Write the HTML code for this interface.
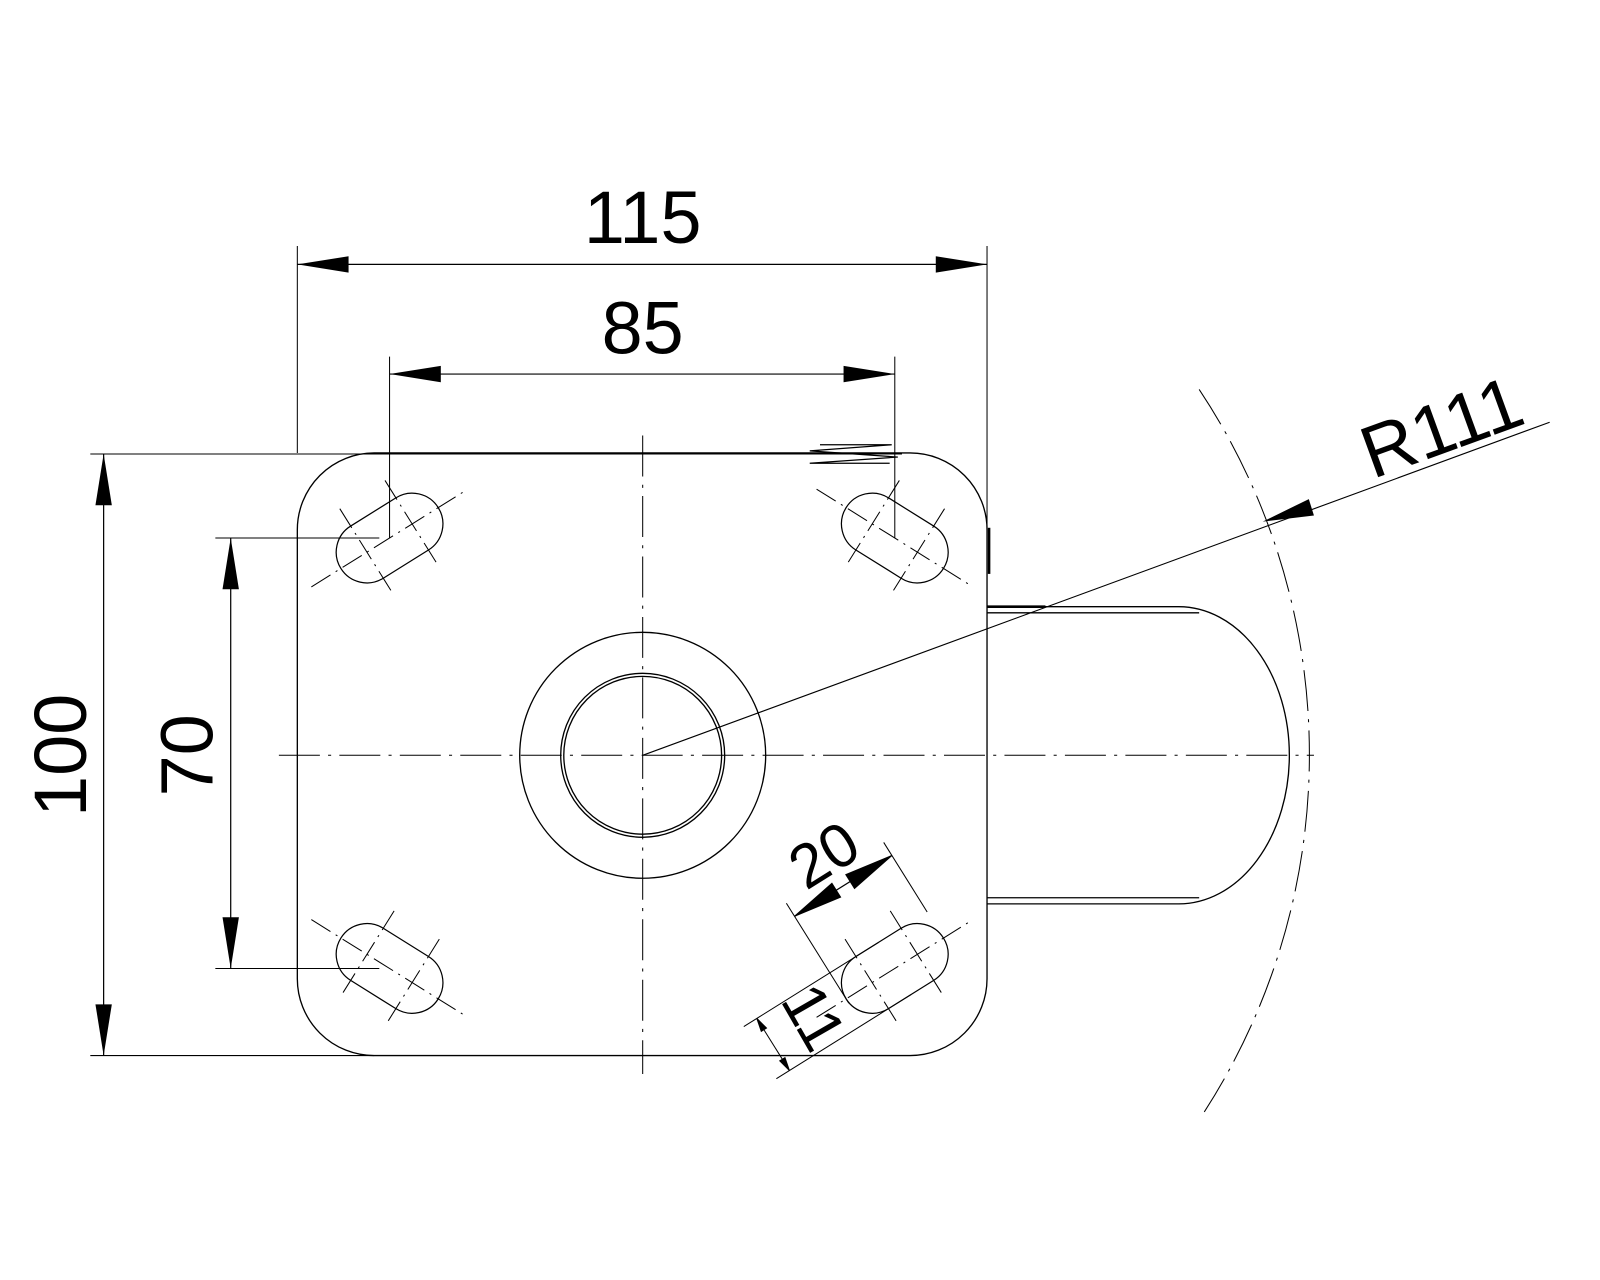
<!DOCTYPE html>
<html><head><style>html,body{margin:0;padding:0;background:#fff}svg{display:block}</style></head>
<body>
<svg width="1600" height="1280" viewBox="0 0 1561 1249" xmlns="http://www.w3.org/2000/svg" font-family="Liberation Sans, sans-serif">
<defs>
<g id="slot">
  <rect x="-56" y="-30" width="112" height="60" rx="30" ry="30" fill="none" stroke="#000" stroke-width="1.2"/>
  <line x1="-90" y1="0" x2="90" y2="0" stroke="#000" stroke-width="1" stroke-dasharray="22,6,2,6"/>
  <line x1="-26" y1="-50" x2="-26" y2="50" stroke="#000" stroke-width="1" stroke-dasharray="22,6,2,6"/>
  <line x1="26" y1="-50" x2="26" y2="50" stroke="#000" stroke-width="1" stroke-dasharray="22,6,2,6"/>
</g>
</defs>
<g fill="none" stroke="#000" stroke-width="1.3">
  <path d="M365,442 H888 A75,75 0 0 1 963,517 V955 A75,75 0 0 1 888,1030 H365 A75,75 0 0 1 290,955 V517 A75,75 0 0 1 365,442 Z"/>
  <line x1="965" y1="515" x2="965" y2="560" stroke-width="2.5"/>
  <circle cx="627" cy="737" r="120"/>
  <circle cx="627" cy="737" r="80"/>
  <circle cx="627" cy="737" r="77"/>
  <path d="M963,592 H1150 A108,145 0 0 1 1150,882 H963"/>
  <line x1="963" y1="598" x2="1170" y2="598"/>
  <line x1="963" y1="876" x2="1170" y2="876"/>
  <line x1="963" y1="592" x2="1020" y2="592" stroke-width="2.5"/>
  <line x1="272" y1="737" x2="1282" y2="737" stroke-width="1" stroke-dasharray="40,8,3,8"/>
  <line x1="627" y1="425" x2="627" y2="1048" stroke-width="1" stroke-dasharray="40,8,3,8"/>
  <path d="M1170,380 A644,644 0 0 1 1175,1085" stroke-width="1" stroke-dasharray="40,8,3,8"/>
  <line x1="627" y1="737" x2="1512" y2="412" stroke-width="1.1"/>
  <polyline points="800,434 870,434 790,440 876,446 790,452 868,452" stroke-width="1.2"/>
  <line x1="290" y1="240" x2="290" y2="442" stroke-width="1"/>
  <line x1="963" y1="240" x2="963" y2="520" stroke-width="1"/>
  <line x1="290" y1="258" x2="963" y2="258" stroke-width="1.2"/>
  <line x1="380" y1="348" x2="380" y2="525" stroke-width="1"/>
  <line x1="873" y1="348" x2="873" y2="525" stroke-width="1"/>
  <line x1="380" y1="365" x2="873" y2="365" stroke-width="1.2"/>
  <line x1="88" y1="443" x2="880" y2="443" stroke-width="1"/>
  <line x1="88" y1="1030" x2="365" y2="1030" stroke-width="1"/>
  <line x1="101" y1="443" x2="101" y2="1030" stroke-width="1.2"/>
  <line x1="210" y1="525" x2="370" y2="525" stroke-width="1"/>
  <line x1="210" y1="945" x2="370" y2="945" stroke-width="1"/>
  <line x1="225" y1="525" x2="225" y2="945" stroke-width="1.2"/>
</g>
<use href="#slot" transform="translate(380,525) rotate(-32)"/>
<use href="#slot" transform="translate(873,525) rotate(32)"/>
<use href="#slot" transform="translate(380,945) rotate(32)"/>
<use href="#slot" transform="translate(873,945) rotate(-32)"/>
<g transform="translate(873,945) rotate(-32)" stroke="#000" fill="none" stroke-width="1">
  <line x1="-56" y1="5" x2="-56" y2="-110"/>
  <line x1="56" y1="-30" x2="56" y2="-110"/>
  <line x1="-56" y1="-95" x2="56" y2="-95" stroke-width="1.2"/>
  <polygon points="-56,-95 -8,-103 -8,-87" fill="#000"/>
  <polygon points="56,-95 8,-103 8,-87" fill="#000"/>
  <line x1="-155" y1="-30" x2="0" y2="-30"/>
  <line x1="-155" y1="30" x2="0" y2="30"/>
  <line x1="-140" y1="-30" x2="-140" y2="30"/>
  <polygon points="-140,-30 -143,-17 -137,-17" fill="#000"/>
  <polygon points="-140,30 -143,17 -137,17" fill="#000"/>
  <text x="0" y="-110" font-size="60" fill="#000" stroke="none" text-anchor="middle">20</text>
</g>
<text transform="translate(790,995) rotate(60)" font-size="60" text-anchor="middle" dominant-baseline="middle">11</text>
<g fill="#000">
  <polygon points="290,258 340,250 340,266"/>
  <polygon points="963,258 913,250 913,266"/>
  <polygon points="380,365 430,357 430,373"/>
  <polygon points="873,365 823,357 823,373"/>
  <polygon points="101,443 93,493 109,493"/>
  <polygon points="101,1030 93,980 109,980"/>
  <polygon points="225,525 217,575 233,575"/>
  <polygon points="225,945 217,895 233,895"/>
  <polygon points="1232,509 1277,487 1282,503"/>
</g>
<g font-size="72" fill="#000" text-anchor="middle">
  <text x="627" y="237">115</text>
  <text x="627" y="345">85</text>
  <text transform="translate(84,737) rotate(-90)">100</text>
  <text transform="translate(207,737) rotate(-90)">70</text>
  <text transform="translate(1415,440) rotate(-20)">R111</text>
</g>
</svg>
</body></html>
